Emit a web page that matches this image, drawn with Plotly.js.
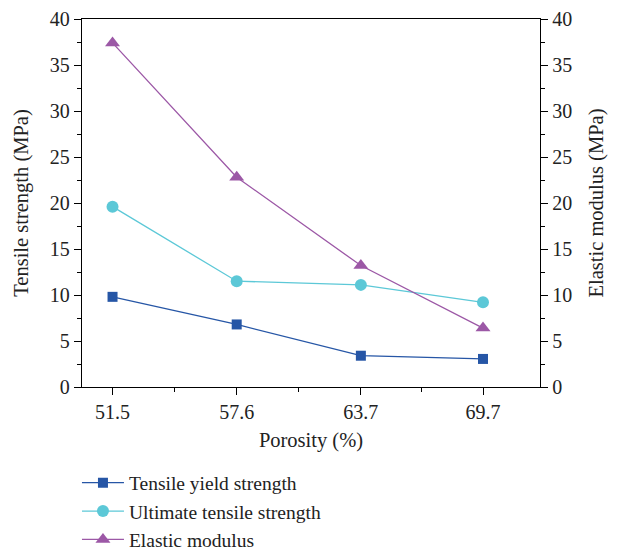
<!DOCTYPE html>
<html>
<head>
<meta charset="utf-8">
<script src="https://cdn.plot.ly/plotly-3.0.1.min.js"></script>
<style>html,body{margin:0;padding:0;background:#fff;}#chart{width:619px;height:550px;}</style>
</head>
<body>
<div id="chart"></div>
<script>
const porosity = [51.5, 57.6, 63.7, 69.7];
const porosityLabels = ["51.5", "57.6", "63.7", "69.7"];
const tensileYield = [9.8, 6.8, 3.4, 3.05];
const ultimateTensile = [19.6, 11.5, 11.1, 9.2];
const elasticModulus = [37.4, 22.8, 13.2, 6.4];

const minorX = [];
for (let i = 0; i < porosity.length - 1; i++) minorX.push((porosity[i] + porosity[i + 1]) / 2);

const fam = "Liberation Serif, Times New Roman, serif";
const tickFont = {family: fam, size: 20, color: "#222"};
const titleFont = {family: fam, size: 20.5, color: "#222"};
const legendFont = {family: fam, size: 19.5, color: "#222"};

const traces = [
  {x: porosity, y: tensileYield, name: "Tensile yield strength", mode: "lines+markers",
   line: {color: "#2656a6", width: 1.3}, marker: {symbol: "square", size: 10, color: "#2656a6"}},
  {x: porosity, y: ultimateTensile, name: "Ultimate tensile strength", mode: "lines+markers",
   line: {color: "#5cc8d7", width: 1.3}, marker: {symbol: "circle", size: 12, color: "#5cc8d7"}},
  {x: porosity, y: elasticModulus, name: "Elastic modulus", mode: "lines+markers", yaxis: "y2",
   line: {color: "#9c58a6", width: 1.3}, marker: {symbol: "triangle-up", size: 13, color: "#9c58a6"}}
];

const yCommon = {
  range: [0, 40], tickmode: "linear", tick0: 0, dtick: 5,
  ticks: "outside", ticklen: 7, tickwidth: 1, tickcolor: "#000",
  showline: true, linecolor: "#000", linewidth: 1.2,
  showgrid: false, zeroline: false, tickfont: tickFont, automargin: false,
  minor: {dtick: 2.5, ticks: "outside", ticklen: 4, tickcolor: "#000", showgrid: false}
};

const layout = {
  width: 619, height: 550,
  margin: {l: 82, r: 79, t: 19, b: 163, autoexpand: false},
  paper_bgcolor: "#fff", plot_bgcolor: "#fff",
  font: tickFont,
  showlegend: true,
  legend: {x: -0.011, y: -0.208, xanchor: "left", yanchor: "top",
           font: legendFont, bgcolor: "rgba(0,0,0,0)", tracegroupgap: 0, itemwidth: 42},
  xaxis: {
    range: [50, 72.5], tickmode: "array", tickvals: porosity, ticktext: porosityLabels,
    ticks: "outside", ticklen: 7, tickwidth: 1, tickcolor: "#000",
    showline: true, linecolor: "#000", linewidth: 1.2, mirror: true,
    showgrid: false, zeroline: false, tickfont: tickFont, automargin: false,
    minor: {tickmode: "array", tickvals: minorX, ticks: "outside", ticklen: 4, tickcolor: "#000", showgrid: false},
    title: {text: "Porosity (%)", font: titleFont, standoff: 10}
  },
  yaxis: Object.assign({}, yCommon, {
    title: {text: "Tensile strength (MPa)", font: titleFont, standoff: 15}
  }),
  yaxis2: Object.assign({}, yCommon, {
    overlaying: "y", side: "right",
    title: {text: "Elastic modulus (MPa)", font: titleFont, standoff: 17}
  })
};

Plotly.newPlot("chart", traces, layout, {displayModeBar: false, staticPlot: true});
</script>
</body>
</html>
